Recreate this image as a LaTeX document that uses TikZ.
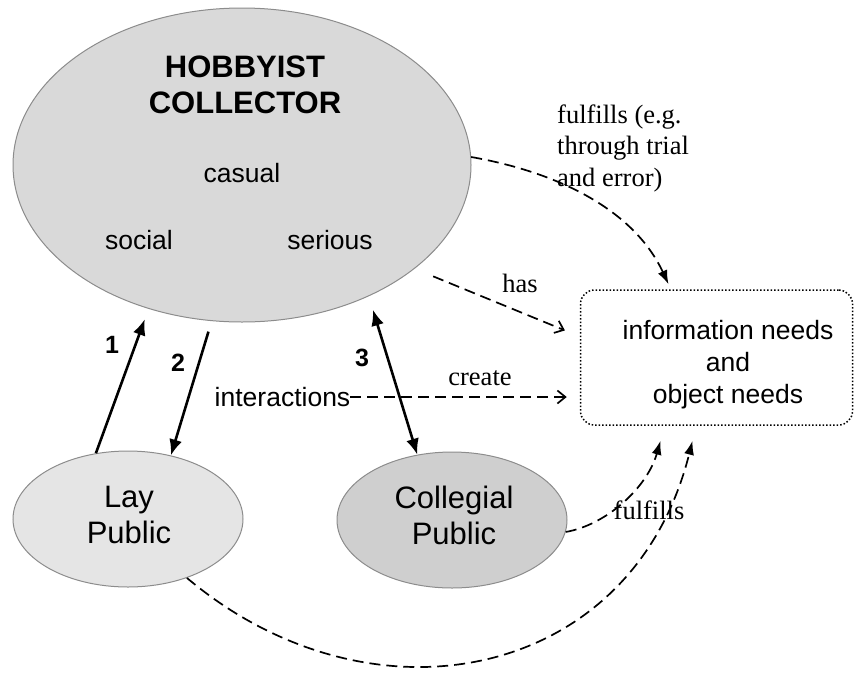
\documentclass[tikz,border=0pt]{standalone}
\usepackage{fontspec}
\setmainfont{Liberation Serif}
\setsansfont{Liberation Sans}
\usetikzlibrary{shapes.geometric,arrows.meta}

\begin{document}
\begin{tikzpicture}[x=1pt, y=-1pt,
  group/.style={ellipse, draw=gray!90, line width=1pt, inner sep=0pt},
  word/.style={font=\sffamily\fontsize{26.5}{31}\selectfont, inner sep=0pt, align=center},
  num/.style={font=\sffamily\bfseries\fontsize{25}{30}\selectfont, inner sep=0pt},
  note/.style={font=\fontsize{26.5}{31}\selectfont, inner sep=0pt},
  link/.style={line width=2.6pt, -{Latex[length=16pt,width=13pt]}},
  flow/.style={line width=1.7pt, dash pattern=on 11pt off 6pt, -{Latex[length=14pt,width=10pt]}},
  need/.style={line width=1.7pt, dash pattern=on 11pt off 6pt, -{Straight Barb[length=8pt,width=13pt]}}]
  \useasboundingbox (0,0) rectangle (854,673);

  \node[group, fill=black!15, minimum width=458pt, minimum height=314pt] (H) at (242,165) {};
  \node[word, font=\sffamily\bfseries\fontsize{31}{36}\selectfont] (T) at (245,85) {HOBBYIST\\COLLECTOR};
  \node[word] (casual) at (242,173) {casual};
  \node[word] (social) at (139,240) {social};
  \node[word] (serious) at (330,240) {serious};

  \node[group, fill=black!10, minimum width=230pt, minimum height=136pt] (L) at (128,519) {};
  \node[word, font=\sffamily\fontsize{31}{36}\selectfont] at (129,515) {Lay\\Public};
  \node[group, fill=black!19, minimum width=230pt, minimum height=136pt] (C) at (452,520) {};
  \node[word, font=\sffamily\fontsize{31}{36}\selectfont] at (454,515) {Collegial\\Public};

  \node[draw, dotted, line width=1.5pt, rounded corners=14pt, minimum width=272pt, minimum height=135pt] (N) at (716.5,357.5) {};
  \node[word, font=\sffamily\fontsize{26.5}{32}\selectfont] at (728,365) {information needs\\and\\object needs};

  \node[word] (I) at (282.5,397) {interactions};
  \node[num] at (112,345) {1};
  \node[num] at (178,363) {2};
  \node[num] at (362,358) {3};
  \node[note] at (520,283) {has};
  \node[note] at (480,378) {create};
  \node[note] at (649,510) {fulfills};
  \node[note, align=left, anchor=west, font=\fontsize{26.5}{31.5}\selectfont] at (557,148) {fulfills (e.g.\\through trial\\and error)};

  \draw[link, shorten >=11pt] (L.116) -- (H.237.6);
  \draw[link, shorten <=11pt] (H.259) -- (L.56);
  \draw[flow] (H.2) .. controls (562,173) and (635,212) .. ([xshift=-48pt,yshift=5pt]N.north);
  \draw[need, shorten <=20pt, shorten >=16pt] (H.329.4) -- ([yshift=21pt]N.west);
  \draw[need, shorten >=13pt] (I.east) -- (I.east -| N.west);
  \draw[link, {Latex[length=16pt,width=13pt]}-{Latex[length=16pt,width=13pt]}, shorten <=14pt] (H.314) -- (C.118);
  \draw[flow] (C.-6) .. controls (606,525) and (647,488) .. ([xshift=-56pt,yshift=-15pt]N.south);
  \draw[flow] (L.-45) .. controls (371,733) and (632,682) .. ([xshift=-24pt,yshift=-15pt]N.south);
\end{tikzpicture}
\end{document}
